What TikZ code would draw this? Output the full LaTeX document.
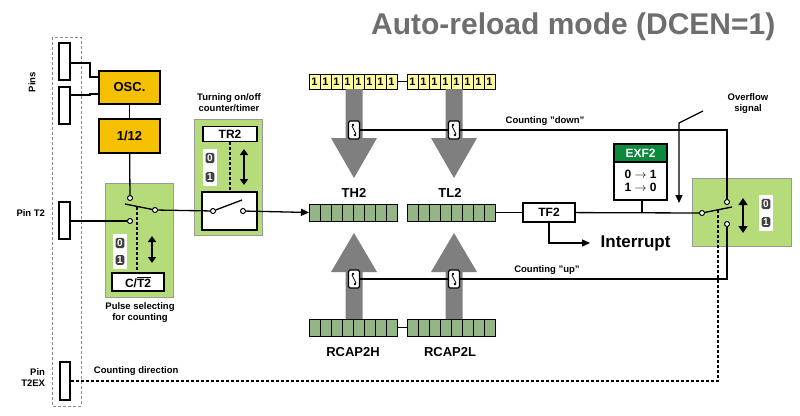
\documentclass[tikz,border=0pt]{standalone}
\usepackage{fontspec}
\setmainfont{Liberation Sans}
\usetikzlibrary{arrows.meta}
\definecolor{lgreen}{HTML}{B5DB7A}
\definecolor{rgreen}{HTML}{94B585}
\definecolor{orng}{HTML}{F5C000}
\definecolor{ylw}{HTML}{FFFF9C}
\definecolor{dgreen}{HTML}{0A8A3A}
\definecolor{garr}{HTML}{7F7F7F}
\definecolor{ttl}{HTML}{6E6E6E}
\begin{document}
\begin{tikzpicture}[x=1pt,y=-1pt,font=\bfseries,line width=1.3pt,
  box/.style={draw,line width=1.3pt,inner sep=0},
  pin/.style={draw,fill=white,line width=1.2pt},
  grn/.style={draw=black!40,line width=0.6pt,fill=lgreen},
  lbl/.style={font=\bfseries\fontsize{9.5}{11}\selectfont,align=center},
  contact/.style={circle,draw,fill=white,line width=1pt,inner sep=0,minimum size=5pt},
  arr/.style={-{Triangle[length=8pt,width=7pt]}},
  dsh/.style={dashed,dash pattern=on 3pt off 2pt,line width=1.2pt},
  gar/.style={fill=garr,draw=none}]
\useasboundingbox (0,0) rectangle (800,415);
\newcommand{\badges}[3]{%
  \fill[white] (#1-7,#2-9) rectangle (#1+7,#3+9);
  \node[fill=black!75,text=white,rounded corners=1.5pt,inner sep=1.5pt,font=\bfseries\fontsize{10}{10}\selectfont] at (#1,#2) {0};
  \node[fill=black!75,text=white,rounded corners=1.5pt,inner sep=1.5pt,font=\bfseries\fontsize{10}{10}\selectfont] at (#1,#3) {1};}
\newcommand{\swicon}[2]{%
  \draw[fill=white,rounded corners=1.5pt,line width=1.2pt] (#1-5.5,#2-9) rectangle (#1+5.5,#2+9);
  \draw[line width=0.8pt] (#1-2,#2-4) -- (#1+2,#2+4);
  \fill (#1-1,#2-5) circle (1.3pt) (#1+1,#2+5) circle (1.3pt);}
\newcommand{\reg}[4]{% x y color name
  \foreach \i in {0,...,7}{\draw[fill=#3,line width=0.8pt] (#1+\i*11,#2) rectangle ++(11,17);}
  \coordinate (#4W) at (#1,#2+8.5); \coordinate (#4E) at (#1+88,#2+8.5);}
\newcommand{\yreg}[3]{%
  \foreach \i in {0,...,7}{\draw[fill=ylw,line width=0.8pt] (#1+\i*11,#2) rectangle ++(11,15);
    \node[font=\bfseries\fontsize{11}{11}\selectfont,inner sep=0] at (#1+\i*11+5.5,#2+7.5) {1};}
  \coordinate (#3W) at (#1,#2+7.5); \coordinate (#3E) at (#1+88,#2+7.5);}

% title
\node[anchor=south east,text=ttl,font=\bfseries\fontsize{30}{30}\selectfont,inner sep=0] (title) at (776,41) {Auto-reload mode (DCEN=1)};

% pins column
\draw[dsh,draw=black!45,line width=1pt] (52,37) rectangle (81,406);
\node[pin,minimum width=11pt,minimum height=37pt] (p1) at (64.5,61.5) {};
\node[pin,minimum width=11pt,minimum height=37pt] (p2) at (64.5,105.5) {};
\node[pin,minimum width=11pt,minimum height=37pt] (pt2) at (64.5,220.5) {};
\node[pin,minimum width=10pt,minimum height=38pt] (pex) at (65,381) {};
\node[rotate=90,lbl] (pins) at (32,82) {Pins};
\node[lbl,anchor=east] (lt2) at (49,213) {Pin T2};
\node[lbl,align=right,anchor=east] (lex) at (49,378) {Pin\\T2EX};

% OSC, 1/12
\node[box,fill=orng,minimum width=61pt,minimum height=33pt,font=\bfseries\fontsize{13}{13}\selectfont] (osc) at (129.5,87.5) {OSC.};
\node[box,fill=orng,minimum width=61pt,minimum height=34pt,font=\bfseries\fontsize{13}{13}\selectfont] (div) at (129.5,136) {1/12};
\draw (p1.east |- 0,63) -- (90,63) -- (90,77) -- (99,77);
\draw (p2.east |- 0,95) -- (90,95) -- (90,94) -- (99,94);
\draw (osc) -- (div);

% C/T2 block
\draw[grn] (105,183) rectangle (173,297);
\node[box,fill=white,minimum width=52pt,minimum height=18pt,font=\bfseries\fontsize{12}{12}\selectfont] (ct2) at (138,282) {C/$\overline{\mbox{T2}}$};
\node[contact] (ca) at (130,198) {};
\node[contact] (cb) at (130,221) {};
\node[contact] (cc) at (155,210) {};
\draw (div) -- (ca);
\draw (pt2.east |- cb) -- (cb);
\draw (125,204) -- (cc);
\draw[dsh,line width=1.2pt] (137,207) -- (ct2.north -| 137,0);
\badges{120}{243}{260}
\draw[{Triangle[length=6pt,width=8pt]}-{Triangle[length=6pt,width=8pt]},line width=1.5pt] (152,236) -- (152,263);
\node[lbl] (pulse) at (140,313) {Pulse selecting\\for counting};

% TR2 block
\draw[grn] (194,119) rectangle (262,235);
\node[box,fill=white,minimum width=54pt,minimum height=15pt,font=\bfseries\fontsize{12}{12}\selectfont] (tr2) at (230,134) {TR2};
\draw[line width=1.3pt,fill=white] (202,192) rectangle (257,230);
\node[contact] (ta) at (213,211) {};
\node[contact] (tb) at (243,211) {};
\draw (ta) -- (242,200);
\draw[dsh] (tr2.south -| 230,0) -- (230,192);
\badges{210}{158}{177}
\draw[{Triangle[length=6pt,width=8pt]}-{Triangle[length=6pt,width=8pt]},line width=1.5pt] (244,149) -- (244,185);
\node[lbl] (turn) at (229,103) {Turning on/off\\counter/timer};
\draw (cc) -- (ta);

% registers
\reg{309}{204}{rgreen}{th}
\reg{407}{204}{rgreen}{tl}
\reg{309}{319}{rgreen}{rh}
\reg{407}{319}{rgreen}{rl}
\yreg{309}{74}{yh}
\yreg{407}{74}{yl}
\draw (yhE) -- (ylW);
\draw (rhE) -- (rlW);
\draw[arr] (tb) -- (thW);
\node[font=\bfseries\fontsize{13}{13}\selectfont] (lth) at (354,193) {TH2};
\node[font=\bfseries\fontsize{13}{13}\selectfont] (ltl) at (450,193) {TL2};
\node[font=\bfseries\fontsize{13}{13}\selectfont] (lrh) at (353,352) {RCAP2H};
\node[font=\bfseries\fontsize{13}{13}\selectfont] (lrl) at (450,352) {RCAP2L};

% gray arrows
\foreach \cx in {354,454}{
  \fill[gar] (\cx-8.5,89) -- (\cx+8.5,89) -- (\cx+8.5,138) -- (\cx+23,138) -- (\cx,178) -- (\cx-23,138) -- (\cx-8.5,138) -- cycle;
  \fill[gar] (\cx-8.5,319) -- (\cx+8.5,319) -- (\cx+8.5,272) -- (\cx+23,272) -- (\cx,233) -- (\cx-23,272) -- (\cx-8.5,272) -- cycle;}

% counting lines
\coordinate (dn1) at (354,130); \coordinate (dn2) at (454,130);
\coordinate (up1) at (354,279); \coordinate (up2) at (454,279);
\draw[grn] (692,178) rectangle (791,246);
\node[contact] (sa) at (727,202) {};
\node[contact] (sb) at (727,224) {};
\node[contact] (sc) at (702,213) {};
\draw (dn1) -- (dn2) -- (727,130) -- (sa);
\draw (up1) -- (up2) -- (727,279) -- (sb);
\swicon{354}{130}\swicon{454}{130}\swicon{354}{279}\swicon{454}{279}
\node[lbl] (ldn) at (545,121) {Counting "down"};
\node[lbl] (lup) at (547,270) {Counting "up"};

% TF2, interrupt
\node[box,fill=white,minimum width=52pt,minimum height=19pt,font=\bfseries\fontsize{12}{12}\selectfont] (tf2) at (549,212.5) {TF2};
\draw (tlE) -- (tf2);
\draw[arr] (tf2.south) -- (549,243) -- (590,243);
\node[anchor=west,font=\bfseries\fontsize{17}{17}\selectfont,inner sep=0] (intr) at (600,243) {Interrupt};
\draw (tf2) -- (sc);
\draw (sc) -- (732,207);
\draw[dsh,line width=1.3pt] (718,210) -- (718,381) -- (pex.east |- 0,381);
\node[lbl,anchor=west] (ldir) at (90,371) {Counting direction};

% EXF2
\draw[line width=1.2pt,fill=white] (614,144) rectangle (667,200);
\node[fill=dgreen,draw=black,line width=1.2pt,text=white,minimum width=53pt,minimum height=18pt,inner sep=0,font=\bfseries\fontsize{12}{12}\selectfont] (exf) at (640.5,153) {EXF2};
\node[font=\bfseries\fontsize{12}{13}\selectfont,align=center] (exv) at (640.5,181) {0 $\rightarrow$ 1\\1 $\rightarrow$ 0};
\draw (642,200) -- (642,212.5);

% right switch
\draw[{Triangle[length=7pt,width=9pt]}-{Triangle[length=7pt,width=9pt]},line width=1.5pt] (743,198) -- (743,233);
\badges{766}{204}{222}
\node[lbl] (ovf) at (748,104) {Overflow\\signal};
\draw[arr] (703,111) -- (679,123) -- (679,203);
\end{tikzpicture}
\end{document}
